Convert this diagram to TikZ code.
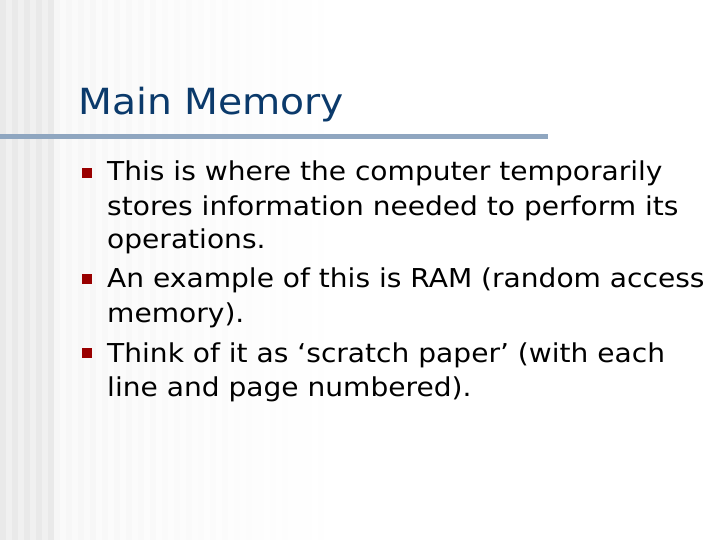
\documentclass[tikz,border=0pt]{standalone}
\usepackage{fontspec}
\setmainfont[FakeStretch=1.08]{DejaVu Sans}
\newfontfamily\titlefont[FakeStretch=1.09]{DejaVu Sans}
\definecolor{titleblue}{HTML}{0B3A6B}
\definecolor{rulec}{HTML}{8FA6C0}
\definecolor{bulletred}{HTML}{990000}
\begin{document}
\begin{tikzpicture}[x=1pt,y=-1pt,
  bodytext/.style={anchor=base west,inner sep=0pt,font=\fontsize{26}{34}\selectfont},
  bul/.style={fill=bulletred,minimum size=10pt,inner sep=0pt}]
\useasboundingbox (0,0) rectangle (720,540);
\fill[white] (0,0) rectangle (720,540);
% stripes
\foreach \i in {0,...,8}{
  \pgfmathsetmacro\v{mod(\i,2)==0 ? 17 : 12}
  \fill[gray!\v] (\i*6,0) rectangle (\i*6+6,540);
}
\foreach \i in {0,...,45}{
  \pgfmathsetmacro\v{max(0,(mod(\i,2)==0 ? 7 : 4)*(1-\i/46))}
  \fill[gray!\v] (54+\i*6,0) rectangle (60+\i*6,540);
}
\node[anchor=base west,inner sep=0pt,text=titleblue,font=\titlefont\fontsize{36}{40}\selectfont] (title) at (78,115) {Main Memory};
\fill[rulec] (0,134.5) rectangle (548,139.5);
\node[bul] (b1) at (87,173) {};
\node[bul] (b2) at (87,279) {};
\node[bul] (b3) at (87,353) {};
\node[bodytext] (t1) at (107,181) {This is where the computer temporarily};
\node[bodytext] (t1b) at (107,215) {stores information needed to perform its};
\node[bodytext] (t1c) at (107,248) {operations.};
\node[bodytext] (t2) at (107,287) {An example of this is RAM (random access};
\node[bodytext] (t2b) at (107,322) {memory).};
\node[bodytext] (t3) at (107,362) {Think of it as ‘scratch paper’ (with each};
\node[bodytext] (t3b) at (107,396) {line and page numbered).};
\end{tikzpicture}
\end{document}
